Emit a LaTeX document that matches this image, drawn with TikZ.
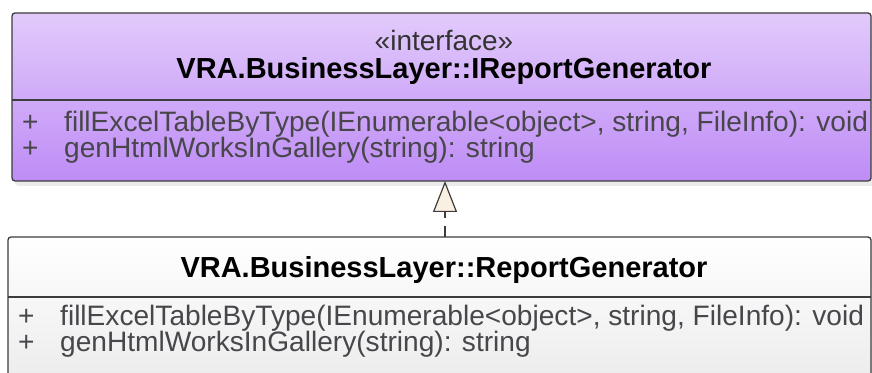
\documentclass[tikz,border=0pt]{standalone}
\usepackage{fontspec}
\setmainfont{Liberation Sans}
\usetikzlibrary{arrows.meta}

\definecolor{ifaceTop}{RGB}{226,202,251}
\definecolor{ifaceBot}{RGB}{190,140,246}
\definecolor{classTop}{RGB}{255,255,255}
\definecolor{classBot}{RGB}{232,232,232}
\definecolor{frameCol}{RGB}{60,60,60}
\definecolor{memberCol}{RGB}{72,70,74}
\definecolor{tipFill}{RGB}{250,240,225}

\tikzset{
  umlbox/.style={draw=frameCol, line width=1.3pt, rounded corners=3pt},
  shadowbox/.style={fill=black, opacity=0.08, rounded corners=4pt},
  sepline/.style={draw=frameCol, line width=1.1pt},
  classname/.style={font=\fontsize{29}{31}\selectfont\bfseries, text=black, anchor=base, inner sep=0pt},
  stereo/.style={font=\fontsize{28}{30}\selectfont, text=black!80, anchor=base, inner sep=0pt},
  member/.style={font=\fontsize{28.1}{30}\selectfont, text=memberCol, anchor=base west, inner sep=0pt},
  realizes/.style={draw=frameCol, line width=1.2pt, dash pattern=on 11pt off 8pt,
    -{Triangle[length=31pt, width=24pt, fill=tipFill, line width=1.2pt]}}
}

\begin{document}
\begin{tikzpicture}[x=1pt, y=1pt]
  \useasboundingbox (0,0) rectangle (872,372);
  \clip (0,0) rectangle (872,372);
  \fill[white] (0,0) rectangle (872,372);

  % interface box
  \fill[shadowbox] (15,186) rectangle (880,356);
  \shade[top color=ifaceTop, bottom color=ifaceBot, rounded corners=3pt] (12,191) rectangle (871,359);
  \node[umlbox, minimum width=859pt, minimum height=168pt, inner sep=0pt] (iface) at (441.5,275) {};
  \draw[sepline] (12,272) -- (871,272);
  \node[stereo] (istereo) at (444,321) {«interface»};
  \node[classname] (iname) at (444,293) {VRA.BusinessLayer::IReportGenerator};
  \node[member] (iplus1) at (22,240) {+};
  \node[member] (iop1) at (64,240) {fillExcelTableByType(IEnumerable<object>, string, FileInfo): void};
  \node[member] (iplus2) at (22,214) {+};
  \node[member] (iop2) at (64,214) {genHtmlWorksInGallery(string): string};

  % implementing class box
  \fill[shadowbox] (11,-40) rectangle (880,132);
  \shade[top color=classTop, bottom color=classBot, rounded corners=3pt] (8,-40) rectangle (871,135);
  \node[umlbox, minimum width=863pt, minimum height=175pt, inner sep=0pt] (impl) at (439.5,47.5) {};
  \draw[sepline] (8,75) -- (871,75);
  \node[classname] (cname) at (444,94) {VRA.BusinessLayer::ReportGenerator};
  \node[member] (cplus1) at (18,46) {+};
  \node[member] (cop1) at (60,46) {fillExcelTableByType(IEnumerable<object>, string, FileInfo): void};
  \node[member] (cplus2) at (18,20) {+};
  \node[member] (cop2) at (60,20) {genHtmlWorksInGallery(string): string};

  % realization arrow
  \coordinate (rfrom) at (445,135);
  \coordinate (rto) at (445,191);
  \draw[realizes] (rfrom) -- (rto);
\end{tikzpicture}
\end{document}
